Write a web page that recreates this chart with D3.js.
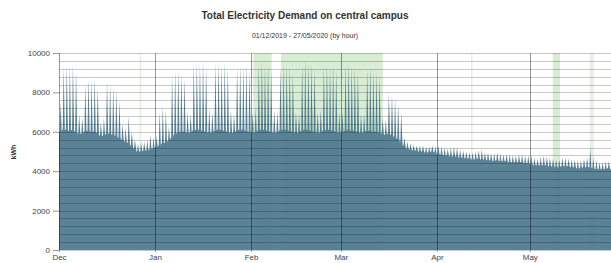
<!DOCTYPE html>
<html>
<head>
<meta charset="utf-8">
<script src="https://cdn.jsdelivr.net/npm/d3@7"></script>
<style>
  body { margin: 0; background: #fff; }
  svg text { font-family: "Liberation Sans", Arial, sans-serif; }
</style>
</head>
<body>
<div class="chart"></div>
<script>
// Daily peak and night-time base demand (kWh)
const decPeak = [7500, 9300, 9400, 9350, 9450, 9100, 6900, 6700, 8400, 8700, 8650, 8750, 8200, 6500, 6700,
                 8550, 8400, 8300, 8100, 7600, 6400, 6200, 6800, 6000, 5600, 5400, 5500, 5500, 5600, 5850, 5750];
const decBase = [6000, 6100, 6100, 6050, 6100, 6000, 5900, 5900, 6000, 6050, 6000, 6000, 5950, 5800, 5800,
                 5900, 5900, 5850, 5800, 5700, 5600, 5500, 5450, 5300, 5150, 5000, 5000, 5050, 5050, 5100, 5150];
const janPeak = [5800, 7000, 7250, 7050, 6300, 8900, 9100, 9150, 9000, 8700, 7000, 6900, 9500, 9600, 9500, 9650,
                 9300, 7200, 7000, 9500, 9600, 9450, 9550, 9200, 7100, 6900, 9300, 9400, 9350, 9450, 9100];
const janBase = [5200, 5300, 5400, 5450, 5550, 5700, 5850, 5950, 6000, 6000, 5950, 5950, 6050, 6100, 6100, 6050,
                 6000, 5950, 5950, 6050, 6100, 6100, 6050, 6000, 5950, 5950, 6050, 6100, 6100, 6050, 6000];
const febPeak = [7000, 7200, 9400, 9550, 9300, 9400, 9100, 7100, 7000, 9300, 9400, 9350, 9300, 9000, 7000,
                 6900, 9400, 9750, 9500, 9450, 9200, 7000, 7100, 9350, 9400, 9300, 9400, 9100, 7000];
const febBase = [5950, 5950, 6050, 6100, 6100, 6050, 6000, 5950, 5950, 6050, 6100, 6100, 6050, 6000, 5950,
                 5950, 6050, 6100, 6100, 6050, 6000, 5950, 5950, 6050, 6100, 6100, 6050, 6000, 5950];
const marPeak = [7000, 9400, 9500, 9350, 9300, 9000, 6900, 6900, 9200, 9300, 9100, 9000, 8800, 6700, 6600, 8000,
                 7900, 7700, 7400, 7000, 5700, 5500, 5400, 5350, 5300, 5300, 5300, 5250, 5250, 5300, 5250];
const marBase = [5950, 6050, 6100, 6050, 6050, 6000, 5950, 5950, 6050, 6050, 6000, 6000, 5950, 5900, 5850, 5900,
                 5850, 5750, 5650, 5500, 5300, 5150, 5100, 5050, 5050, 5000, 5000, 4950, 4950, 5000, 4950];
const aprPeak = [5300, 5250, 5200, 5150, 5200, 5250, 5200, 5100, 5050, 5000, 4950, 4950, 5000, 5050, 5100,
                 4950, 4950, 4900, 4900, 4950, 4900, 4850, 4850, 4850, 4800, 4800, 4850, 4850, 4800, 4800];
const aprBase = [4850, 4850, 4800, 4800, 4750, 4750, 4750, 4700, 4700, 4650, 4650, 4600, 4600, 4650, 4600,
                 4600, 4550, 4550, 4500, 4550, 4500, 4500, 4500, 4450, 4450, 4450, 4450, 4450, 4400, 4400];
const mayPeak = [4800, 4700, 4650, 4750, 4800, 4750, 4700, 4650, 4600, 4600, 4700, 4700, 4650, 4600,
                 4600, 4550, 4550, 4650, 4700, 5150, 4700, 4550, 4450, 4450, 4500, 4500, 4450];
const mayBase = [4350, 4300, 4300, 4300, 4300, 4300, 4250, 4250, 4200, 4200, 4250, 4250, 4250, 4200,
                 4200, 4150, 4150, 4200, 4200, 4200, 4150, 4100, 4100, 4100, 4100, 4150, 4100];

const dayPeak = [].concat(decPeak, janPeak, febPeak, marPeak, aprPeak, mayPeak);
const dayBase = [].concat(decBase, janBase, febBase, marBase, aprBase, mayBase);

const monthTicks = ["2019-12-01", "2020-01-01", "2020-02-01", "2020-03-01", "2020-04-01", "2020-05-01"];
const yTicks = [0, 2000, 4000, 6000, 8000, 10000];

// Shaded periods
const strongBands = [["2020-02-01T18:00", "2020-02-07T16:00"], ["2020-02-10T16:00", "2020-03-14T14:00"],
                     ["2020-05-08T10:00", "2020-05-10T19:00"]];
const lightBands = [["2020-05-20T10:00", "2020-05-21T17:00"]];
const faintBands = [["2019-12-27T00:00", "2019-12-27T12:00"], ["2020-04-12T00:00", "2020-04-12T12:00"]];

const width = 611, height = 263;
const plotLeft = 59, plotTop = 53, plotBottom = 250;
const parse = d3.isoParse;
const start = new Date(2019, 11, 1);

// Each day: flat night, a daytime peak, back to the night level
let points = [];
dayPeak.forEach((p, i) => {
    const day = d3.timeDay.offset(start, i);
    points.push({t: day, v: dayBase[i]});
    points.push({t: d3.timeHour.offset(day, 5), v: dayBase[i]});
    points.push({t: d3.timeHour.offset(day, 12), v: p});
    points.push({t: d3.timeHour.offset(day, 21), v: dayBase[i]});
});
points.push({t: d3.timeDay.offset(start, dayPeak.length), v: dayBase[dayBase.length - 1]});

const svg = d3.select(".chart").append("svg")
    .attr("width", width)
    .attr("height", height);

const x = d3.scaleTime()
    .domain([start, d3.timeDay.offset(start, dayPeak.length)])
    .range([plotLeft, plotLeft + dayPeak.length * 3.0972]);

const y = d3.scaleLinear()
    .domain([0, 10000])
    .range([plotBottom, plotTop]);

// Shaded periods behind everything
function bands(list, color) {
    svg.append("g").selectAll("rect")
        .data(list)
        .enter().append("rect")
        .attr("x", d => x(parse(d[0])))
        .attr("width", d => x(parse(d[1])) - x(parse(d[0])))
        .attr("y", plotTop)
        .attr("height", plotBottom - plotTop)
        .attr("fill", color);
}
bands(strongBands, "#d8edd3");
bands(lightBands, "#e5f2e2");
bands(faintBands, "#e8efe6");

// Demand area
const area = d3.area()
    .x(d => x(d.t))
    .y0(y(0))
    .y1(d => y(d.v));

svg.append("path")
    .datum(points)
    .attr("d", area)
    .attr("fill", "#4d7a8f")
    .attr("fill-opacity", 0.93);

// Horizontal grid every 400 kWh, on top of the area
svg.append("g").selectAll("line")
    .data(d3.range(0, 10001, 400))
    .enter().append("line")
    .attr("x1", plotLeft)
    .attr("x2", width)
    .attr("y1", d => Math.round(y(d)) + 0.5)
    .attr("y2", d => Math.round(y(d)) + 0.5)
    .attr("stroke", "#000")
    .attr("stroke-opacity", 0.22);

// Month lines
svg.append("g").selectAll("line")
    .data(monthTicks)
    .enter().append("line")
    .attr("x1", d => Math.round(x(parse(d))) + 0.5)
    .attr("x2", d => Math.round(x(parse(d))) + 0.5)
    .attr("y1", plotTop)
    .attr("y2", plotBottom)
    .attr("stroke", "#000")
    .attr("stroke-opacity", 0.4);

// Axes
const yAxis = svg.append("g")
    .attr("transform", `translate(${plotLeft}, 0)`)
    .call(d3.axisLeft(y).tickValues(yTicks).tickFormat(d3.format("d"))
        .tickSize(6).tickPadding(3));

const xAxis = svg.append("g")
    .attr("transform", `translate(0, ${plotBottom})`)
    .call(d3.axisBottom(x).tickValues(monthTicks.map(parse))
        .tickFormat(d3.timeFormat("%b")).tickSize(2).tickPadding(2));

[yAxis, xAxis].forEach(a => {
    a.select(".domain").remove();
    a.selectAll(".tick line").attr("stroke", "#999");
    a.selectAll(".tick text")
        .attr("fill", "#444")
        .style("font-size", "8px");
});

svg.append("text")
    .attr("transform", "translate(16, 152) rotate(-90)")
    .attr("text-anchor", "middle")
    .attr("fill", "#333")
    .style("font-size", "7px")
    .style("font-weight", "bold")
    .text("kWh");

// Titles
svg.append("text")
    .attr("x", 305)
    .attr("y", 19)
    .attr("text-anchor", "middle")
    .attr("fill", "#333")
    .style("font-size", "10px")
    .style("font-weight", "bold")
    .text("Total Electricity Demand on central campus");

svg.append("text")
    .attr("x", 305)
    .attr("y", 38)
    .attr("text-anchor", "middle")
    .attr("fill", "#333")
    .style("font-size", "7px")
    .text("01/12/2019 - 27/05/2020 (by hour)");
</script>
</body>
</html>
